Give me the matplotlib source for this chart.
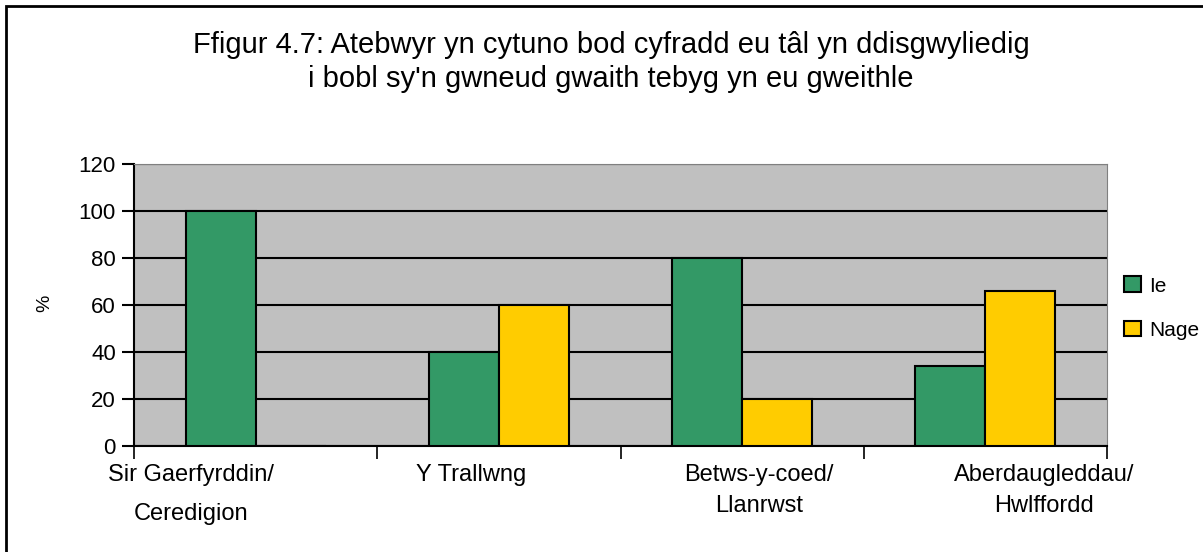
import numpy as np
import matplotlib.pyplot as plt
from matplotlib.patches import Rectangle, Patch

plt.rcParams['font.family'] = ['Liberation Sans', 'DejaVu Sans']

# data
categories = ["Sir Gaerfyrddin/\nCeredigion", "Y Trallwng", "Betws-y-coed/\nLlanrwst", "Aberdaugleddau/\nHwlffordd"]
ie_values = [100, 40, 80, 34]
nage_values = [0, 60, 20, 66]
series_names = ["Ie", "Nage"]

green = "#339966"
yellow = "#FFCC00"

fig = plt.figure(figsize=(12.03, 5.52), dpi=100)
# outer chart frame (right/bottom run off the image)
fig.patches.append(Rectangle((6 / 1203, -0.1), 1.2, 1 - 6 / 552 + 0.1, transform=fig.transFigure,
                             fill=False, edgecolor="black", linewidth=2))

ax = fig.add_axes([134 / 1203, 1 - 446 / 552, (1107 - 134) / 1203, (446 - 164) / 552])
ax.set_facecolor("#C0C0C0")

x = np.arange(len(categories))
w = 0.288
ax.bar(x - w / 2, ie_values, w, color=green, edgecolor="black", linewidth=1.5, zorder=3, label=series_names[0])
ax.bar(x + w / 2, nage_values, w, color=yellow, edgecolor="black", linewidth=1.5, zorder=3, label=series_names[1])

ax.set_xlim(-0.5, len(categories) - 0.5)
ax.set_ylim(0, 120)
ax.set_yticks(range(0, 121, 20))
ax.set_yticklabels(["0", "20", "40", "60", "80", "100", "120"], fontsize=16)
ax.yaxis.grid(True, color="black", linewidth=1.5, zorder=1)
ax.tick_params(axis="y", length=9, width=1.5, pad=4)

# category labels: Excel spread them a little off the group centres
ax.set_xticks([])
label_shift = [-0.265, -0.115, 0.07, 0.24]
label_spacing = [2.0, 1.5, 1.5, 1.5]
for i, lab in enumerate(categories):
    ax.text(x[i] + label_shift[i], -0.065, lab, transform=ax.get_xaxis_transform(),
            ha="center", va="top", fontsize=17, linespacing=label_spacing[i], multialignment="center")
ax.set_xticks(np.arange(-0.5, len(categories)), minor=True)
ax.tick_params(axis="x", which="minor", length=9, width=1.2)
ax.set_xticklabels([], minor=True)

for side in ["top", "right"]:
    ax.spines[side].set_color("#808080")
ax.spines["left"].set_linewidth(1.5)
ax.spines["bottom"].set_linewidth(1.5)

fig.text(45 / 1203, 1 - 303 / 552, "%", rotation=90, fontsize=14, ha="center", va="center")

fig.text(611 / 1203, 1 - 62 / 552,
         "Ffigur 4.7: Atebwyr yn cytuno bod cyfradd eu tâl yn ddisgwyliedig\ni bobl sy'n gwneud gwaith tebyg yn eu gweithle",
         fontsize=21, ha="center", va="center", linespacing=1.3)

handles = [Patch(facecolor=green, edgecolor="black", linewidth=1.5),
           Patch(facecolor=yellow, edgecolor="black", linewidth=1.5)]
fig.legend(handles, series_names, loc="upper left", bbox_to_anchor=(1116 / 1203, 1 - 268 / 552),
           frameon=False, fontsize=15, handlelength=0.8, handleheight=0.8, handletextpad=0.4,
           labelspacing=1.2, borderaxespad=0)

fig.savefig("out.png", dpi=100)
